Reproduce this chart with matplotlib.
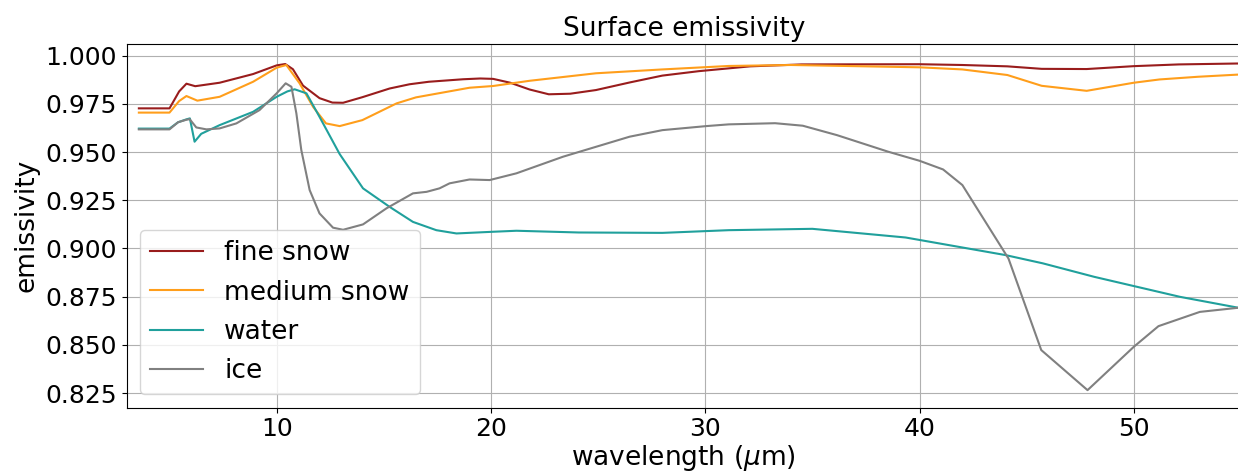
import matplotlib
matplotlib.use('Agg')
import matplotlib.pyplot as plt

# wavelength (um) and emissivity, one pair per surface
wl_fine = [3.57, 5.0, 5.45, 5.79, 6.2, 7.34, 8.9, 10.0, 10.4, 10.76, 11.23, 12.0, 12.6, 13.1,
           14.0, 15.27, 16.2, 17.1, 18.7, 19.5, 20.1, 20.9, 21.8, 22.7, 23.7, 24.9, 26.5,
           28.0, 29.7, 32.1, 34.5, 40.0, 42.0, 44.1, 45.7, 47.8, 50.0, 52.1, 55.0]
em_fine = [0.9727, 0.9727, 0.9815, 0.9855, 0.9842, 0.9860, 0.9905, 0.9950, 0.9957, 0.9930,
           0.9845, 0.9780, 0.9757, 0.9756, 0.9785, 0.9830, 0.9852, 0.9865, 0.9878, 0.9882,
           0.9880, 0.9860, 0.9825, 0.9800, 0.9803, 0.9822, 0.9862, 0.9897, 0.9920, 0.9945,
           0.9955, 0.9956, 0.9952, 0.9945, 0.9932, 0.9931, 0.9946, 0.9955, 0.9960]

wl_medium = [3.57, 5.0, 5.45, 5.79, 6.3, 7.34, 8.9, 10.0, 10.45, 11.07, 11.7, 12.3, 12.94,
             14.0, 15.6, 16.5, 17.1, 19.0, 20.1, 21.8, 24.9, 28.0, 31.1, 34.0, 40.0, 42.0,
             44.1, 45.7, 47.8, 50.0, 51.2, 53.0, 55.0]
em_medium = [0.9705, 0.9705, 0.9765, 0.9791, 0.9767, 0.9787, 0.9865, 0.9938, 0.9952, 0.9857,
             0.9735, 0.9649, 0.9635, 0.9666, 0.9753, 0.9784, 0.9796, 0.9834, 0.9843, 0.9870,
             0.9909, 0.9929, 0.9947, 0.9952, 0.9940, 0.9929, 0.9900, 0.9844, 0.9818, 0.9860,
             0.9877, 0.9891, 0.9903]

wl_water = [3.57, 5.0, 5.4, 5.79, 5.95, 6.17, 6.48, 7.34, 8.9, 10.0, 10.5, 10.84, 11.39, 12.0,
            12.94, 14.03, 15.27, 16.36, 17.45, 18.39, 19.94, 21.19, 24.1, 28.0, 31.1, 35.0,
            39.35, 44.0, 45.75, 48.15, 50.0, 52.16, 55.0]
em_water = [0.9622, 0.9622, 0.9655, 0.9670, 0.9675, 0.9554, 0.9595, 0.9640, 0.9709, 0.9787,
            0.9815, 0.9826, 0.9805, 0.9683, 0.9490, 0.9312, 0.9216, 0.9138, 0.9095, 0.9078,
            0.9086, 0.9092, 0.9083, 0.9081, 0.9095, 0.9102, 0.9057, 0.8966, 0.8923, 0.8853,
            0.8805, 0.8749, 0.8690]

wl_ice = [3.57, 5.0, 5.4, 5.79, 5.94, 6.25, 6.72, 7.34, 8.12, 9.2, 10.0, 10.42, 10.69, 10.92,
          11.15, 11.54, 12.0, 12.63, 13.1, 14.03, 15.12, 16.36, 17.0, 17.6, 18.07, 19.0, 19.94,
          21.19, 23.36, 26.47, 28.0, 30.05, 31.1, 33.26, 34.55, 36.15, 38.54, 40.0, 41.1, 42.0,
          44.15, 45.68, 47.84, 50.0, 51.15, 53.08, 55.0]
em_ice = [0.9618, 0.9618, 0.9655, 0.9668, 0.9671, 0.9628, 0.9618, 0.9623, 0.9649, 0.9718,
          0.9805, 0.9857, 0.9839, 0.9701, 0.9511, 0.9303, 0.9182, 0.9108, 0.9097, 0.9125,
          0.9208, 0.9286, 0.9294, 0.9312, 0.9338, 0.9358, 0.9355, 0.9390, 0.9476, 0.9580,
          0.9614, 0.9635, 0.9644, 0.9650, 0.9637, 0.9588, 0.9502, 0.9455, 0.9410, 0.9329,
          0.8948, 0.8473, 0.8265, 0.8490, 0.8597, 0.8671, 0.8694]

fig = plt.figure(figsize=(12.38, 4.74), dpi=100)
ax = fig.add_axes([0.1023, 0.1399, 0.9001, 0.7673])

ax.plot(wl_fine, em_fine, color='#991c1c', lw=1.5, label='fine snow')
ax.plot(wl_medium, em_medium, color='#ff9e1b', lw=1.5, label='medium snow')
ax.plot(wl_water, em_water, color='#20a09c', lw=1.5, label='water')
ax.plot(wl_ice, em_ice, color='gray', lw=1.5, label='ice')

ax.set_xlim(3, 55)
ax.set_ylim(0.8174, 1.0061)
ax.set_yticks([0.825, 0.85, 0.875, 0.9, 0.925, 0.95, 0.975, 1.0])
ax.grid(True)
ax.tick_params(labelsize=18)
ax.set_xlabel(r'wavelength ($\mu$m)', fontsize=19, labelpad=1)
ax.set_ylabel('emissivity', fontsize=19)
ax.set_title('Surface emissivity', fontsize=19)
ax.legend(loc='lower left', fontsize=19)

fig.savefig('out.png', dpi=100)
